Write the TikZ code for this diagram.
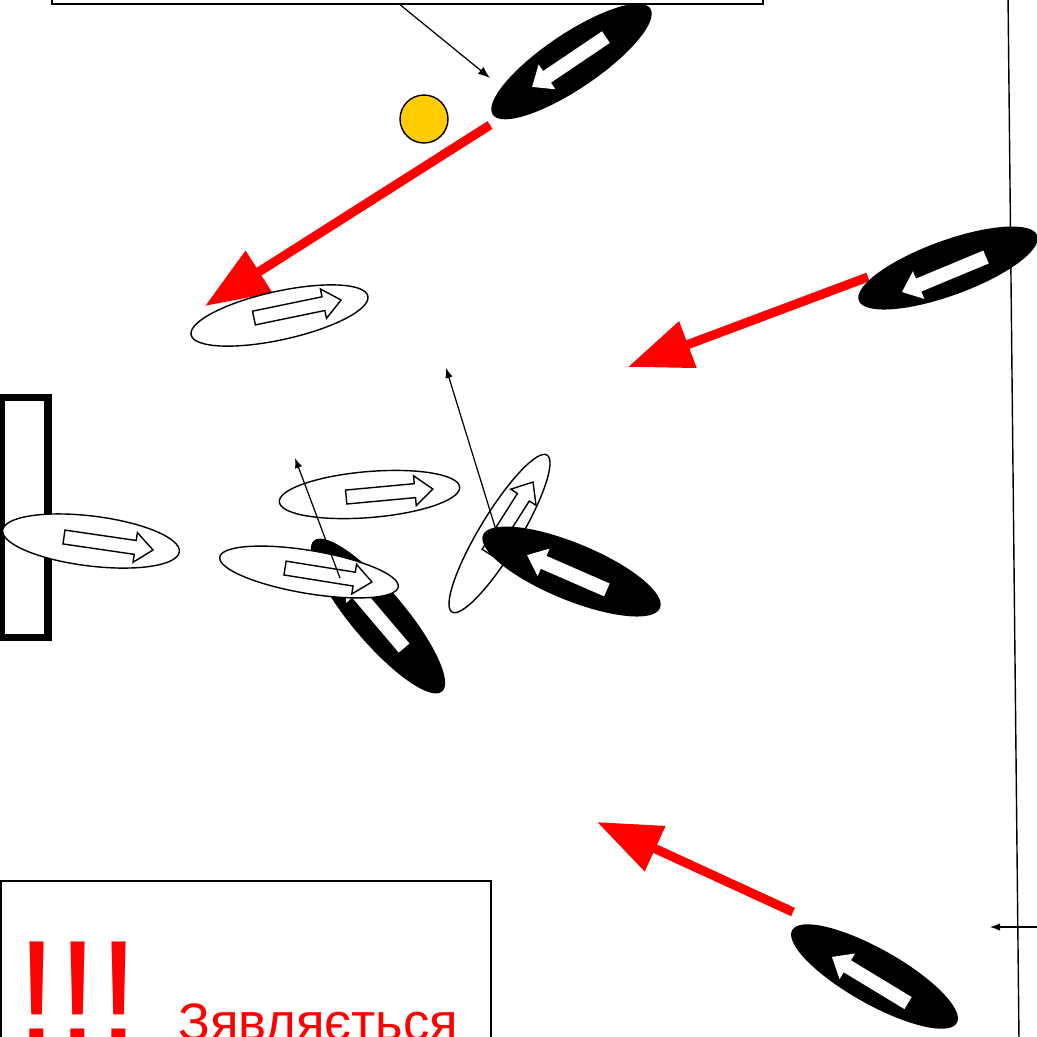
\documentclass[tikz,border=0pt]{standalone}
\usepackage{fontspec}
\setmainfont{Liberation Sans}
\usepackage{xcolor}
\usepackage{tikz}
\usetikzlibrary{calc}
\usetikzlibrary{shapes.geometric}
\usetikzlibrary{arrows.meta}
\definecolor{ballyellow}{HTML}{FFCC00}

% block arrow inside a player: centre, angle, length, look
\newcommand{\blockarrow}[4]{%
  \path[#4, shift={#1}, rotate=#2]
    (-#3/2,7) -- (#3/2-18,7) -- (#3/2-18,15) -- (#3/2,0)
    -- (#3/2-18,-15) -- (#3/2-18,-7) -- (-#3/2,-7) -- cycle;}

\tikzset{
  opp/.style={ellipse, fill=black, inner sep=0, minimum width=3.8cm,
    minimum height=1.1cm},
  mate/.style={ellipse, draw, fill=white, line width=0.8pt, inner sep=0,
    minimum width=3.6cm, minimum height=0.95cm},
  run/.style={red, line width=5.2pt, -{Triangle[length=1.28cm, width=0.95cm]}},
  move/.style={line width=0.7pt, -{Latex[length=0.2cm, width=0.15cm]}},
  hollow/.style={draw, fill=white, line width=0.8pt},
  solid/.style={fill=white}
}

\begin{document}
\begin{tikzpicture}[x=0.02cm, y=-0.02cm]
    \useasboundingbox (0,0) rectangle (1037,1036);
    \clip (0,0) rectangle (1037,1036);

        \node [draw, line width=0.8pt, minimum width=14.22cm,
          minimum height=4cm] (note) at (407.5,-96) {};
        \node [draw, line width=0.8pt, minimum width=9.8cm,
          minimum height=4.38cm] (alert) at (246,990.5) {};
        \node [red, anchor=base west, inner sep=0,
          font=\fontsize{84}{84}\selectfont] (bang) at (16.5,1043) {!!!};
        \node [red, anchor=base west, inner sep=0,
          font=\fontsize{30}{30}\selectfont] (word) at (178,1040) {Зявляється};

        \draw [line width=0.8pt] (1008,-5) -- (1019,1041);
        \draw [line width=4pt] (1,397) rectangle (48,637);

        \coordinate (r1s) at (490,125);
        \coordinate (r1e) at (205,306);
        \coordinate (r2s) at (868,277);
        \coordinate (r2e) at (628,367);
        \coordinate (r3s) at (793,912);
        \coordinate (r3e) at (597,822);
        \draw [run] (r1s) -- (r1e);
        \draw [run] (r2s) -- (r2e);
        \draw [run] (r3s) -- (r3e);

        \node [opp, rotate=34] (oA) at (571.5,61.5) {};
        \blockarrow{(569,62)}{214}{89}{solid}
        \node [circle, draw, fill=ballyellow, line width=0.8pt, inner sep=0,
          minimum size=0.96cm] (ball) at (424,119) {};
        \coordinate (tA) at (490,78);
        \draw [move, -{Latex[length=0.24cm, width=0.18cm]}]
          ($(note.south)+(-7.5,0)$) -- (tA);

        \node [mate, rotate=12.4, minimum width=3.62cm,
          minimum height=0.97cm] (w1) at (279.5,315.5) {};
        \blockarrow{(297.5,309)}{11.7}{89}{hollow}

        \node [opp, rotate=20] (oB) at (948,268) {};
        \blockarrow{(944,274.5)}{202.6}{91}{solid}

        \node [mate, rotate=-7, minimum width=3.56cm,
          minimum height=1cm] (w2) at (91,541) {};
        \blockarrow{(108.5,543.5)}{-8.3}{90}{hollow}

        \node [mate, rotate=4.7, minimum width=3.62cm,
          minimum height=0.92cm] (w3) at (369.5,494.5) {};
        \blockarrow{(389.5,493)}{5.3}{87}{hollow}

        \node [opp, rotate=-49.7, minimum width=3.96cm,
          minimum height=1.06cm] (oC) at (378,616) {};
        \blockarrow{(375,613.7)}{130.3}{90}{solid}
        \node [mate, rotate=-9.5, minimum width=3.62cm,
          minimum height=0.86cm] (w4) at (309,572) {};
        \blockarrow{(328.5,575)}{-9.1}{88}{hollow}
        \coordinate (m4s) at (340,578);
        \coordinate (m4e) at (295,458);
        \draw [move] (m4s) -- (m4e);

        \node [mate, rotate=58.8, minimum width=3.67cm,
          minimum height=0.8cm] (w5) at (499.5,533.5) {};
        \blockarrow{(510.5,517.5)}{57.6}{84}{hollow}
        \coordinate (m5s) at (496,530);
        \coordinate (m5e) at (446,368);
        \draw [move] (m5s) -- (m5e);
        \node [opp, rotate=-22.4, minimum width=3.83cm,
          minimum height=1.14cm] (oD) at (571.5,571.5) {};
        \blockarrow{(567,572.5)}{156.4}{87}{solid}

        \node [opp, rotate=-29.4, minimum width=3.78cm] (oE) at (874.5,976.5) {};
        \blockarrow{(870,980)}{148.8}{89}{solid}

        \coordinate (sideA) at (1040,927);
        \coordinate (sideB) at (990,927);
        \draw [move] (sideA) -- (sideB);
    \end{tikzpicture}
\end{document}
